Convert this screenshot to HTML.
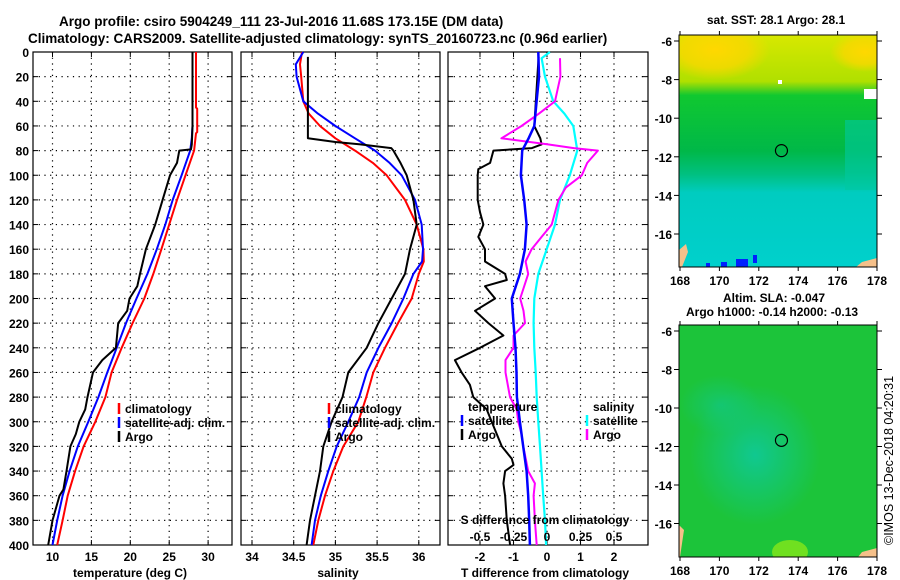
<!DOCTYPE html>
<html><head><meta charset="utf-8"><style>
html,body{margin:0;padding:0;background:#fff;width:900px;height:580px;overflow:hidden}
svg{display:block;font-family:"Liberation Sans",sans-serif}
text{font-size:12px;font-weight:bold;fill:#000}
</style></head><body>
<svg id="c" width="900" height="580" viewBox="0 0 900 580">
<text x="59" y="26" style="font-size:13.5px">Argo profile: csiro 5904249_111 23-Jul-2016 11.68S 173.15E (DM data)</text>
<text x="28" y="43" style="font-size:13.5px">Climatology: CARS2009. Satellite-adjusted climatology: synTS_20160723.nc (0.96d earlier)</text>
<g id="maps"></g>
<g id="plots"></g>
<text transform="translate(893,545) rotate(-90)" style="font-weight:normal;font-size:12.5px">©IMOS 13-Dec-2018 04:20:31</text>
</svg>
<script>
// ---- data ----
const depthsRed=[0,45,46,65,66,80,100,120,140,160,180,200,220,240,260,280,300,320,340,360,380,400];
const tempClim=[28.45,28.45,28.6,28.6,28.45,28.2,27.1,26.0,25.0,24.0,22.95,21.8,20.3,18.9,17.6,16.8,15.5,14.0,12.9,11.95,11.3,10.6];
const depthsStd=[0,60,70,80,100,120,140,160,180,200,220,240,260,280,300,320,340,360,380,400];
const tempSat=[28.0,28.0,27.9,27.7,26.6,25.45,24.5,23.4,22.2,20.8,19.45,18.25,17.05,15.9,14.6,13.25,12.2,11.3,10.6,10.0];
const depthsArgoT=[0,60,75,79,80,90,100,120,140,160,180,190,200,210,220,240,250,260,280,290,300,310,320,340,355,360,380,400];
const tempArgo=[28.0,28.0,27.9,27.8,26.3,26.0,25.1,24.15,23.2,22.0,21.25,20.9,19.9,19.6,18.45,18.15,16.4,15.2,14.5,14.2,13.45,13.0,12.3,11.8,11.4,10.9,10.0,9.45];
const depthsS=[0,10,20,40,50,60,70,80,90,100,120,140,160,170,180,200,220,240,260,280,300,320,340,360,380,400];
const salClim=[34.60,34.575,34.59,34.615,34.68,34.815,35.0,35.235,35.45,35.615,35.835,35.975,36.055,36.06,36.0,35.915,35.75,35.595,35.455,35.37,35.275,35.095,34.975,34.875,34.795,34.735];
const salSat=[34.615,34.525,34.535,34.615,34.79,35.0,35.235,35.475,35.65,35.795,35.955,36.035,36.05,36.04,35.935,35.815,35.675,35.515,35.375,35.285,35.155,35.015,34.915,34.825,34.755,34.715];
const depthsArgoS=[4,70,73,75,78,80,90,100,120,140,160,180,200,220,240,260,280,300,320,340,360,380,400];
const salArgo=[34.67,34.67,35.0,35.3,35.67,35.695,35.78,35.855,35.935,35.975,35.895,35.835,35.675,35.515,35.375,35.155,35.085,34.955,34.855,34.815,34.755,34.695,34.655];
const depthsD=[0,20,40,60,70,80,100,120,140,160,180,200,220,240,260,280,300,320,340,360,380,400];
const tdiffSat=[-0.26,-0.24,-0.31,-0.38,-0.55,-0.74,-0.78,-0.68,-0.61,-0.66,-0.81,-1.05,-1.0,-0.94,-0.91,-0.9,-0.81,-0.71,-0.61,-0.56,-0.53,-0.51];
const depthsTA=[4,60,70,75,78,80,90,95,100,120,130,140,150,160,170,180,185,190,200,210,220,230,240,250,260,270,280,290,300,320,330,335,340,350,360,380,400];
const tdiffArgo=[-0.25,-0.38,-0.2,-0.16,-0.45,-1.6,-1.7,-2.05,-2.07,-2.07,-2.0,-1.9,-2.05,-1.85,-1.85,-1.25,-1.2,-1.85,-1.55,-2.15,-1.75,-1.3,-2.0,-2.75,-2.55,-2.3,-2.2,-1.8,-1.65,-1.35,-1.05,-1.0,-1.25,-1.3,-1.25,-1.2,-1.1];
const depthsC=[0,5,20,40,50,60,80,100,120,140,160,180,200,220,240,260,280,300,320,340,360,380,400];
const sdiffSat=[0.022,-0.04,-0.015,0.047,0.13,0.196,0.226,0.17,0.097,0.06,-0.002,-0.065,-0.095,-0.10,-0.095,-0.084,-0.077,-0.065,-0.052,-0.04,-0.028,-0.015,-0.007];
const depthsM=[5,20,40,50,60,70,75,78,80,90,100,110,120,140,150,160,170,180,200,210,220,230,240,250,260,280,290,300,310,320,340,350,360,380,400];
const sdiffArgo=[0.097,0.1,0.06,-0.06,-0.19,-0.34,0.007,0.2,0.38,0.3,0.26,0.14,0.085,0.035,-0.04,-0.115,-0.16,-0.14,-0.2,-0.175,-0.164,-0.25,-0.25,-0.31,-0.31,-0.276,-0.226,-0.214,-0.19,-0.177,-0.14,-0.09,-0.10,-0.09,-0.077];
const depthTicks=[0,20,40,60,80,100,120,140,160,180,200,220,240,260,280,300,320,340,360,380,400];
const tTicks=[10,15,20,25,30];
const sTicks=[34,34.5,35,35.5,36];
const tdTicks=[-2,-1,0,1,2];
const sdTicks=[-0.5,-0.25,0,0.25,0.5];
const latTicks=[-6,-8,-10,-12,-14,-16];
const lonTicks=[168,170,172,174,176,178];

// ---- helpers ----
const NS='http://www.w3.org/2000/svg';
const plots=document.getElementById('plots');
function mk(tag,attrs,parent){const e=document.createElementNS(NS,tag);for(const k in attrs)e.setAttribute(k,attrs[k]);(parent||plots).appendChild(e);return e;}
const Y0=52,Y1=545;
const yD=d=>Y0+d*(Y1-Y0)/400;
function line(parent,xs,ds,fx,color,w,name){
  const p=ds.map((d,i)=>(i?'L':'M')+fx(xs[i]).toFixed(1)+','+yD(d).toFixed(1)).join('');
  const e=mk('path',{d:p,fill:'none',stroke:color,'stroke-width':w,'stroke-linejoin':'round'},parent);
  
  
}
function frame(x0,x1,xTickList,fx,labels,name){
  const g=mk('g',{});
  
  
  depthTicks.forEach(d=>{const y=yD(d);
    if(d>0&&d<400)mk('line',{x1:x0,x2:x1,y1:y,y2:y,stroke:'#000','stroke-width':1.2,'stroke-dasharray':'1.2 4.5'},g);
    mk('line',{x1:x0,x2:x0+5,y1:y,y2:y,stroke:'#000'},g);mk('line',{x1:x1-5,x2:x1,y1:y,y2:y,stroke:'#000'},g);
    if(labels){const t=mk('text',{x:x0-4,y:y+5,'text-anchor':'end'},g);t.textContent=d;
      
      }
  });
  xTickList.forEach(v=>{const x=fx(v);
    mk('line',{x1:x,x2:x,y1:Y0,y2:Y1,stroke:'#000','stroke-width':1.2,'stroke-dasharray':'1.2 4.5'},g);
    mk('line',{x1:x,x2:x,y1:Y0,y2:Y0+5,stroke:'#000'},g);mk('line',{x1:x,x2:x,y1:Y1-5,y2:Y1,stroke:'#000'},g);
  });
  mk('rect',{x:x0,y:Y0,width:x1-x0,height:Y1-Y0,fill:'none',stroke:'#000','stroke-width':1.2},g);
  return g;
}
function xlab(list,fx,y,fmt){list.forEach(v=>{const t=mk('text',{x:fx(v),y:y,'text-anchor':'middle'});t.textContent=fmt?fmt(v):v;
  
  });}
function txt(x,y,s,name,anchor){const t=mk('text',{x:x,y:y,'text-anchor':anchor||'start'});t.textContent=s;
  
  return t;}
function legTick(x,y,c){const e=mk('line',{x1:x,x2:x,y1:y-10,y2:y+1,stroke:c,'stroke-width':2.5});
  
  }

// ---- panel 1: temperature ----
const fT=v=>52.5+(v-10)*7.78;
frame(33,232,tTicks,fT,true,'temperature-panel');
const gT=mk('g',{});
line(gT,tempClim,depthsRed,fT,'#ff0000',2,'temp-climatology-line');
line(gT,tempSat,depthsStd,fT,'#0000ff',2,'temp-satellite-line');
line(gT,tempArgo,depthsArgoT,fT,'#000',2,'temp-argo-line');
xlab(tTicks,fT,561);
txt(130,577,'temperature (deg C)','temperature-axis-title','middle');
legTick(119,413,'#f00');txt(125,413,'climatology','legend-climatology');
legTick(119,427,'#00f');txt(125,427,'satellite-adj. clim.','legend-satellite-adj');
legTick(119,441,'#000');txt(125,441,'Argo','legend-argo');

// ---- panel 2: salinity ----
const fS=v=>252+(v-34)*83.4;
frame(241,440,sTicks,fS,false,'salinity-panel');
const gS=mk('g',{});
line(gS,salClim,depthsS,fS,'#ff0000',2,'sal-climatology-line');
line(gS,salSat,depthsS,fS,'#0000ff',2,'sal-satellite-line');
line(gS,salArgo,depthsArgoS,fS,'#000',2,'sal-argo-line');
xlab(sTicks,fS,561);
txt(338,577,'salinity','salinity-axis-title','middle');
legTick(329,413,'#f00');txt(335,413,'climatology','legend-climatology-2');
legTick(329,427,'#00f');txt(335,427,'satellite-adj. clim.','legend-satellite-adj-2');
legTick(329,441,'#000');txt(335,441,'Argo','legend-argo-2');

// ---- panel 3: differences ----
const fTD=v=>547+v*33.5;
const fSD=v=>547+v*134;
frame(448,648,tdTicks,fTD,false,'difference-panel');
const gD=mk('g',{});
line(gD,tdiffArgo,depthsTA,fTD,'#000',2,'tdiff-argo-line');
line(gD,sdiffSat,depthsC,fSD,'#00ffff',2.2,'sdiff-satellite-line');
line(gD,sdiffArgo,depthsM,fSD,'#ff00ff',2,'sdiff-argo-line');
line(gD,tdiffSat,depthsD,fTD,'#0000ff',2.5,'tdiff-satellite-line');
xlab(tdTicks,fTD,561);
txt(545,577,'T difference from climatology','tdiff-axis-title','middle');
txt(545,524,'S difference from climatology','sdiff-axis-title','middle');
xlab(sdTicks,fSD,541,v=>v);
txt(468,411,'temperature','legend-temperature-header');
legTick(462,425,'#00f');txt(468,425,'satellite','legend-t-satellite');
legTick(462,439,'#000');txt(468,439,'Argo','legend-t-argo');
txt(593,411,'salinity','legend-salinity-header');
legTick(587,425,'#0ff');txt(593,425,'satellite','legend-s-satellite');
legTick(587,439,'#f0f');txt(593,439,'Argo','legend-s-argo');

// ---- maps ----
const maps=document.getElementById('maps');
function mapPanel(top,bottom,latY,cfg,name,title){
  const g=mk('g',{},maps);
  
  
  const x0=679,x1=877,fLon=v=>680+(v-168)*19.7;
  const clip=mk('clipPath',{id:'cl'+name},g);mk('rect',{x:x0,y:top,width:x1-x0,height:bottom-top},clip);
  const inner=mk('g',{'clip-path':'url(#cl'+name+')'},g);
  cfg(inner,x0,x1,top,bottom,latY);
  latTicks.forEach(v=>{const y=latY(v);
    mk('line',{x1:x0-5,x2:x0,y1:y,y2:y,stroke:'#000'},g);mk('line',{x1:x1,x2:x1+5,y1:y,y2:y,stroke:'#000'},g);
    const t=mk('text',{x:x0-7,y:y+5,'text-anchor':'end'},g);t.textContent=v;
    
    });
  lonTicks.forEach(v=>{const x=fLon(v);
    mk('line',{x1:x,x2:x,y1:top-4,y2:top,stroke:'#000'},g);mk('line',{x1:x,x2:x,y1:bottom,y2:bottom+4,stroke:'#000'},g);
    const t=mk('text',{x:x,y:bottom+18,'text-anchor':'middle'},g);t.textContent=v;
    
    });
  mk('rect',{x:x0,y:top,width:x1-x0,height:bottom-top,fill:'none',stroke:'#000','stroke-width':1},g);
  const c=mk('circle',{cx:fLon(173.15),cy:latY(-11.68),r:6,fill:'none',stroke:'#000','stroke-width':1.2},g);
  
  
}
const defs=mk('defs',{},maps);
defs.innerHTML='<linearGradient id="sstg" x1="0" y1="0" x2="0" y2="1"><stop offset="0" stop-color="#d8e800"/><stop offset="0.2" stop-color="#b0e000"/><stop offset="0.26" stop-color="#10c830"/><stop offset="0.5" stop-color="#00b848"/><stop offset="0.6" stop-color="#00c080"/><stop offset="0.68" stop-color="#00ccc0"/><stop offset="1" stop-color="#00d0cc"/></linearGradient>'+
'<radialGradient id="yel" cx="0.5" cy="0.5" r="0.5"><stop offset="0" stop-color="#ffd800"/><stop offset="0.6" stop-color="#f8d800" stop-opacity="0.8"/><stop offset="1" stop-color="#f8d800" stop-opacity="0"/></radialGradient>'+
'<radialGradient id="teal" cx="0.5" cy="0.5" r="0.5"><stop offset="0" stop-color="#10c890"/><stop offset="1" stop-color="#10c890" stop-opacity="0"/></radialGradient>';
mapPanel(35,267,v=>41+(-6-v)*19.3,(g,x0,x1,t,b)=>{
  mk('rect',{x:x0,y:t,width:x1-x0,height:b-t,fill:'url(#sstg)'},g);
  mk('ellipse',{cx:715,cy:50,rx:55,ry:30,fill:'url(#yel)'},g);
  mk('ellipse',{cx:865,cy:52,rx:35,ry:20,fill:'url(#yel)'},g);
  mk('rect',{x:845,y:120,width:32,height:70,fill:'#00c8a0',opacity:0.6},g);
  mk('rect',{x:778,y:80,width:4,height:4,fill:'#fff'},g);
  mk('rect',{x:864,y:89,width:13,height:10,fill:'#fff'},g);
  [[706,263,4],[721,262,6],[736,259,12],[753,255,4]].forEach(r=>mk('rect',{x:r[0],y:r[1],width:r[2],height:8,fill:'#0020ff'},g));
  mk('path',{d:'M679,250 L686,244 L688,252 L682,267 L679,267Z',fill:'#f5c08a'},g);
  mk('path',{d:'M877,258 L862,262 L856,267 L877,267Z',fill:'#f5c08a'},g);
},'sst-map');
txt(776,24,'sat. SST: 28.1 Argo: 28.1','sst-map-title','middle');
txt(723,302,'Altim. SLA: -0.047','sla-map-title');
txt(686,316,'Argo h1000: -0.14 h2000: -0.13','argo-height-title');
mapPanel(325,557,v=>331+(-6-v)*19.25,(g,x0,x1,t,b)=>{
  mk('rect',{x:x0,y:t,width:x1-x0,height:b-t,fill:'#1cc43a'},g);
  mk('ellipse',{cx:755,cy:455,rx:65,ry:70,fill:'url(#teal)'},g);
  mk('ellipse',{cx:720,cy:405,rx:40,ry:30,fill:'url(#teal)',opacity:0.6},g);
  mk('ellipse',{cx:790,cy:552,rx:18,ry:12,fill:'#70e020'},g);
  mk('path',{d:'M679,525 L684,530 L680,557 L679,557Z',fill:'#f5c08a'},g);
  mk('path',{d:'M877,548 L862,552 L858,557 L877,557Z',fill:'#f5c08a'},g);
},'sla-map');
</script>
</body></html>
